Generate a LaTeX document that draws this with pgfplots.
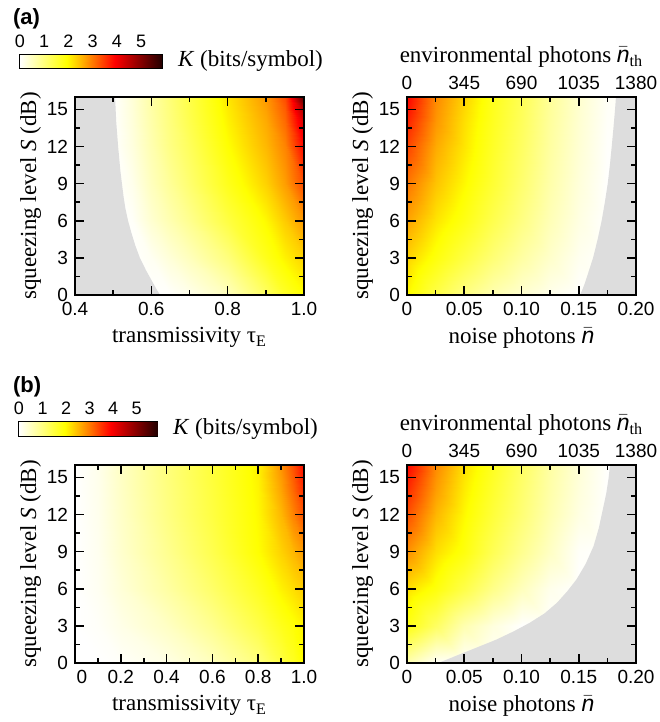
\documentclass[border=0pt]{standalone}
\usepackage{fontspec}
\setmainfont{Liberation Serif}
\setsansfont{Liberation Sans}
\usepackage{pgfplots}
\pgfplotsset{compat=1.18}
\definecolor{graybg}{RGB}{221,221,221}
\newcommand{\nbar}{\smash{\(\bar{\mbox{\sffamily\itshape n}}\)}}
\pgfplotsset{
  colormap={whot}{rgb255(0cm)=(255,255,255); rgb255(1cm)=(255,255,0); rgb255(2cm)=(255,0,0); rgb255(3cm)=(35,0,0)},
  panel/.style={
    scale only axis, width=114.5pt, height=99pt, anchor=south west,
    ymin=0, ymax=16, ytick={0,3,...,15}, minor y tick num=1,
    tick align=inside, major tick length=4.5pt, minor tick length=2.5pt,
    tick style={black, line width=0.8pt},
    axis line style={line width=1pt},
    colormap name=whot, point meta min=0, point meta max=5.86,
    ticklabel style={font=\fontsize{9.5}{11}\selectfont\sffamily},
    /pgf/number format/assume math mode=true,
    label style={font=\fontsize{11.5}{13}\selectfont},
    xlabel style={yshift=1pt},
    ylabel style={yshift=-4pt},
    ylabel={squeezing level \textit{S} (dB)},
    axis on top,
  },
  toppanel/.style={
    scale only axis, width=114.5pt, height=99pt, anchor=south west,
    xmin=0, xmax=1380, ymin=0, ymax=16, hide y axis, axis x line*=top,
    xtick={0,345,690,1035,1380}, major tick length=0pt,
    axis line style={line width=1pt},
    ticklabel style={font=\fontsize{9.5}{11}\selectfont\sffamily, /pgf/number format/1000 sep={}},
    /pgf/number format/assume math mode=true,
    label style={font=\fontsize{11.5}{13}\selectfont},
    xlabel style={yshift=-2.5pt},
    xlabel={environmental photons \nbar\textsubscript{th}},
  },
  cbar/.style={
    scale only axis, anchor=south west, clip=false,
    xmin=0, xmax=5.86, ymin=0, ymax=1, ytick=\empty,
    xtick={0,1,2,3,4,5}, minor x tick num=1,
    xtick pos=right, xticklabel pos=right,
    tick align=inside, major tick length=2.5pt, minor tick length=1.5pt,
    tick style={black, line width=0.5pt},
    axis line style={line width=0.6pt},
    colormap name=whot, point meta min=0, point meta max=5.86,
    ticklabel style={font=\fontsize{9}{10}\selectfont\sffamily},
    /pgf/number format/assume math mode=true,
  },
}
\newcommand{\cbarplot}{%
  \addplot[surf, shader=interp, mesh/cols=13, point meta=x] coordinates {
  (0,0) (0.5,0) (1,0) (1.5,0) (2,0) (2.5,0) (3,0) (3.5,0) (4,0) (4.5,0) (5,0) (5.5,0) (5.86,0)
  (0,1) (0.5,1) (1,1) (1.5,1) (2,1) (2.5,1) (3,1) (3.5,1) (4,1) (4.5,1) (5,1) (5.5,1) (5.86,1)
  };
  \node[anchor=west, xshift=4.5pt, font=\fontsize{11.5}{13}\selectfont] at (rel axis cs:1,0.5) {\textit{K} (bits/symbol)};
}
\begin{document}
\begin{tikzpicture}
\path[use as bounding box] (0,0) rectangle (329.5pt,361pt);
\node[anchor=west, font=\fontsize{11}{13}\selectfont\sffamily\bfseries] at (3pt,351.5pt) {(a)};
\node[anchor=west, font=\fontsize{11}{13}\selectfont\sffamily\bfseries] at (3pt,167.5pt) {(b)};

% ---- colorbar (a)
\begin{axis}[cbar, at={(10pt,327pt)}, width=71pt, height=6.5pt]
\cbarplot
\end{axis}

% ---- (a) left
\begin{axis}[panel, at={(37.5pt,213.5pt)},
  xmin=0.4, xmax=1, xtick={0.4,0.6,0.8,1.0}, xticklabels={0.4,0.6,0.8,1.0}, minor x tick num=1,
  xlabel={transmissivity τ\textsubscript{E}}]
\addplot[surf, shader=interp, mesh/cols=9, point meta=explicit] coordinates {
(0.5,0)[0] (0.55,0)[0] (0.6,0)[0] (0.65,0)[0.03] (0.7,0)[0.15] (0.8,0)[0.5] (0.9,0)[1.2] (0.95,0)[1.65] (1,0)[1.95]
(0.5,3)[0] (0.55,3)[0] (0.6,3)[0.1] (0.65,3)[0.3] (0.7,3)[0.5] (0.8,3)[1.0] (0.9,3)[1.75] (0.95,3)[2.05] (1,3)[2.3]
(0.5,6)[0] (0.55,6)[0.05] (0.6,6)[0.35] (0.65,6)[0.6] (0.7,6)[0.85] (0.8,6)[1.45] (0.9,6)[2.0] (0.95,6)[2.35] (1,6)[2.75]
(0.5,9)[0] (0.55,9)[0.15] (0.6,9)[0.5] (0.65,9)[0.8] (0.7,9)[1.1] (0.8,9)[1.75] (0.9,9)[2.3] (0.95,9)[2.7] (1,9)[3.35]
(0.5,12)[0] (0.55,12)[0.25] (0.6,12)[0.6] (0.65,12)[0.95] (0.7,12)[1.25] (0.8,12)[1.95] (0.9,12)[2.5] (0.95,12)[2.9] (1,12)[3.9]
(0.5,14)[0] (0.55,14)[0.28] (0.6,14)[0.65] (0.65,14)[1.0] (0.7,14)[1.35] (0.8,14)[2.05] (0.9,14)[2.6] (0.95,14)[3.1] (1,14)[4.3]
(0.5,15)[0] (0.55,15)[0.29] (0.6,15)[0.67] (0.65,15)[1.02] (0.7,15)[1.38] (0.8,15)[2.1] (0.9,15)[2.68] (0.95,15)[3.2] (1,15)[4.7]
(0.5,16)[0] (0.55,16)[0.3] (0.6,16)[0.68] (0.65,16)[1.05] (0.7,16)[1.4] (0.8,16)[2.15] (0.9,16)[2.75] (0.95,16)[3.35] (1,16)[5.5]
};
\addplot[fill=graybg, draw=none] coordinates {
(0.4,0) (0.623,0) (0.613,0.5) (0.604,1) (0.595,1.5) (0.586,2) (0.578,2.5) (0.57,3) (0.558,4) (0.548,5) (0.539,6) (0.532,7) (0.527,8) (0.519,10) (0.513,12) (0.508,14) (0.505,16) (0.4,16)
} -- cycle;
\end{axis}

% ---- (a) right
\begin{axis}[panel, at={(203.5pt,213.5pt)},
  xmin=0, xmax=0.2, xtick={0,0.05,0.1,0.15,0.2}, xticklabels={0,0.05,0.10,0.15,0.20}, minor x tick num=1,
  xticklabel pos=lower,
  xlabel={noise photons \nbar}]
\addplot[surf, shader=interp, mesh/cols=9, point meta=explicit] coordinates {
(0,0)[2.0] (0.025,0)[1.4] (0.05,0)[0.95] (0.075,0)[0.6] (0.1,0)[0.35] (0.125,0)[0.15] (0.15,0)[0.01] (0.175,0)[0] (0.2,0)[0]
(0,3)[2.3] (0.025,3)[1.85] (0.05,3)[1.45] (0.075,3)[1.05] (0.1,3)[0.7] (0.125,3)[0.4] (0.15,3)[0.12] (0.175,3)[0] (0.2,3)[0]
(0,6)[2.65] (0.025,6)[2.15] (0.05,6)[1.8] (0.075,6)[1.35] (0.1,6)[0.95] (0.125,6)[0.55] (0.15,6)[0.22] (0.175,6)[0] (0.2,6)[0]
(0,9)[3.0] (0.025,9)[2.4] (0.05,9)[2.0] (0.075,9)[1.55] (0.1,9)[1.1] (0.125,9)[0.65] (0.15,9)[0.28] (0.175,9)[0.01] (0.2,9)[0]
(0,12)[3.4] (0.025,12)[2.6] (0.05,12)[2.15] (0.075,12)[1.65] (0.1,12)[1.2] (0.125,12)[0.72] (0.15,12)[0.33] (0.175,12)[0.03] (0.2,12)[0]
(0,14)[3.65] (0.025,14)[2.75] (0.05,14)[2.2] (0.075,14)[1.7] (0.1,14)[1.25] (0.125,14)[0.75] (0.15,14)[0.35] (0.175,14)[0.05] (0.2,14)[0]
(0,15)[3.8] (0.025,15)[2.8] (0.05,15)[2.25] (0.075,15)[1.72] (0.1,15)[1.27] (0.125,15)[0.77] (0.15,15)[0.36] (0.175,15)[0.06] (0.2,15)[0]
(0,16)[3.9] (0.025,16)[2.85] (0.05,16)[2.3] (0.075,16)[1.75] (0.1,16)[1.3] (0.125,16)[0.78] (0.15,16)[0.37] (0.175,16)[0.07] (0.2,16)[0]
};
\addplot[fill=graybg, draw=none] coordinates {
(0.2,0) (0.151,0) (0.1535,0.5) (0.1555,1) (0.159,2) (0.1625,3) (0.1665,4.5) (0.170,6) (0.1728,7.5) (0.1753,9) (0.1772,10.5) (0.1788,12) (0.1803,13.5) (0.1817,15) (0.1825,16) (0.2,16)
} -- cycle;
\end{axis}
\begin{axis}[toppanel, at={(203.5pt,213.5pt)}]
\end{axis}

% ---- colorbar (b)
\begin{axis}[cbar, at={(9.5pt,143pt)}, width=69pt, height=7pt]
\cbarplot
\end{axis}

% ---- (b) left
\begin{axis}[panel, at={(37.5pt,29.5pt)},
  xmin=0, xmax=1, xtick={0,0.2,0.4,0.6,0.8,1.0}, xticklabels={\hspace*{7pt}0,0.2,0.4,0.6,0.8,1.0}, minor x tick num=1,
  xlabel={transmissivity τ\textsubscript{E}}]
\addplot[surf, shader=interp, mesh/cols=9, point meta=explicit] coordinates {
(0,0)[0] (0.1,0)[0] (0.2,0)[0.05] (0.4,0)[0.2] (0.6,0)[0.5] (0.8,0)[1.0] (0.9,0)[1.45] (0.95,0)[1.7] (1,0)[2.0]
(0,3)[0] (0.1,3)[0.05] (0.2,3)[0.18] (0.4,3)[0.45] (0.6,3)[0.85] (0.8,3)[1.4] (0.9,3)[1.75] (0.95,3)[1.9] (1,3)[2.05]
(0,6)[0] (0.1,6)[0.1] (0.2,6)[0.3] (0.4,6)[0.7] (0.6,6)[1.15] (0.8,6)[1.7] (0.9,6)[2.05] (0.95,6)[2.2] (1,6)[2.35]
(0,9)[0] (0.1,9)[0.12] (0.2,9)[0.38] (0.4,9)[0.85] (0.6,9)[1.35] (0.8,9)[1.95] (0.9,9)[2.3] (0.95,9)[2.5] (1,9)[2.75]
(0,12)[0] (0.1,12)[0.14] (0.2,12)[0.42] (0.4,12)[0.95] (0.6,12)[1.45] (0.8,12)[2.0] (0.9,12)[2.5] (0.95,12)[2.9] (1,12)[3.3]
(0,14)[0] (0.1,14)[0.15] (0.2,14)[0.44] (0.4,14)[0.98] (0.6,14)[1.48] (0.8,14)[2.03] (0.9,14)[2.65] (0.95,14)[3.1] (1,14)[3.6]
(0,15)[0] (0.1,15)[0.15] (0.2,15)[0.45] (0.4,15)[1.0] (0.6,15)[1.5] (0.8,15)[2.05] (0.9,15)[2.72] (0.95,15)[3.2] (1,15)[3.75]
(0,16)[0] (0.1,16)[0.15] (0.2,16)[0.45] (0.4,16)[1.0] (0.6,16)[1.5] (0.8,16)[2.05] (0.9,16)[2.8] (0.95,16)[3.3] (1,16)[3.9]
};
\end{axis}

% ---- (b) right
\begin{axis}[panel, at={(203.5pt,29.5pt)},
  xmin=0, xmax=0.2, xtick={0,0.05,0.1,0.15,0.2}, xticklabels={0,0.05,0.10,0.15,0.20}, minor x tick num=1,
  xticklabel pos=lower,
  xlabel={noise photons \nbar}]
\addplot[surf, shader=interp, mesh/cols=9, point meta=explicit] coordinates {
(0,0)[0.6] (0.025,0)[0.05] (0.05,0)[0] (0.075,0)[0] (0.1,0)[0] (0.125,0)[0] (0.15,0)[0] (0.175,0)[0] (0.2,0)[0]
(0,3)[1.8] (0.025,3)[1.2] (0.05,3)[0.6] (0.075,3)[0.25] (0.1,3)[0] (0.125,3)[0] (0.15,3)[0] (0.175,3)[0] (0.2,3)[0]
(0,6)[2.2] (0.025,6)[1.85] (0.05,6)[1.4] (0.075,6)[0.9] (0.1,6)[0.5] (0.125,6)[0.15] (0.15,6)[0] (0.175,6)[0] (0.2,6)[0]
(0,9)[2.8] (0.025,9)[2.2] (0.05,9)[1.85] (0.075,9)[1.3] (0.1,9)[0.85] (0.125,9)[0.45] (0.15,9)[0.05] (0.175,9)[0] (0.2,9)[0]
(0,12)[3.3] (0.025,12)[2.5] (0.05,12)[2.0] (0.075,12)[1.5] (0.1,12)[1.05] (0.125,12)[0.6] (0.15,12)[0.22] (0.175,12)[0] (0.2,12)[0]
(0,14)[3.6] (0.025,14)[2.7] (0.05,14)[2.1] (0.075,14)[1.6] (0.1,14)[1.12] (0.125,14)[0.66] (0.15,14)[0.27] (0.175,14)[0.01] (0.2,14)[0]
(0,15)[3.75] (0.025,15)[2.78] (0.05,15)[2.15] (0.075,15)[1.65] (0.1,15)[1.16] (0.125,15)[0.68] (0.15,15)[0.29] (0.175,15)[0.015] (0.2,15)[0]
(0,16)[3.9] (0.025,16)[2.85] (0.05,16)[2.2] (0.075,16)[1.7] (0.1,16)[1.2] (0.125,16)[0.7] (0.15,16)[0.3] (0.175,16)[0.02] (0.2,16)[0]
};
\addplot[fill=graybg, draw=none] coordinates {
(0.0273,0) (0.038,0.4) (0.049,0.81) (0.063,1.33) (0.078,1.89) (0.093,2.55) (0.107,3.24) (0.12,4.0) (0.131,4.87) (0.140,5.8) (0.148,6.75) (0.156,8.0) (0.163,9.46) (0.1675,10.9) (0.171,12.4) (0.174,13.7) (0.176,14.9) (0.1773,16) (0.2,16) (0.2,0)
} -- cycle;
\end{axis}
\begin{axis}[toppanel, at={(203.5pt,29.5pt)}]
\end{axis}
\end{tikzpicture}
\end{document}
